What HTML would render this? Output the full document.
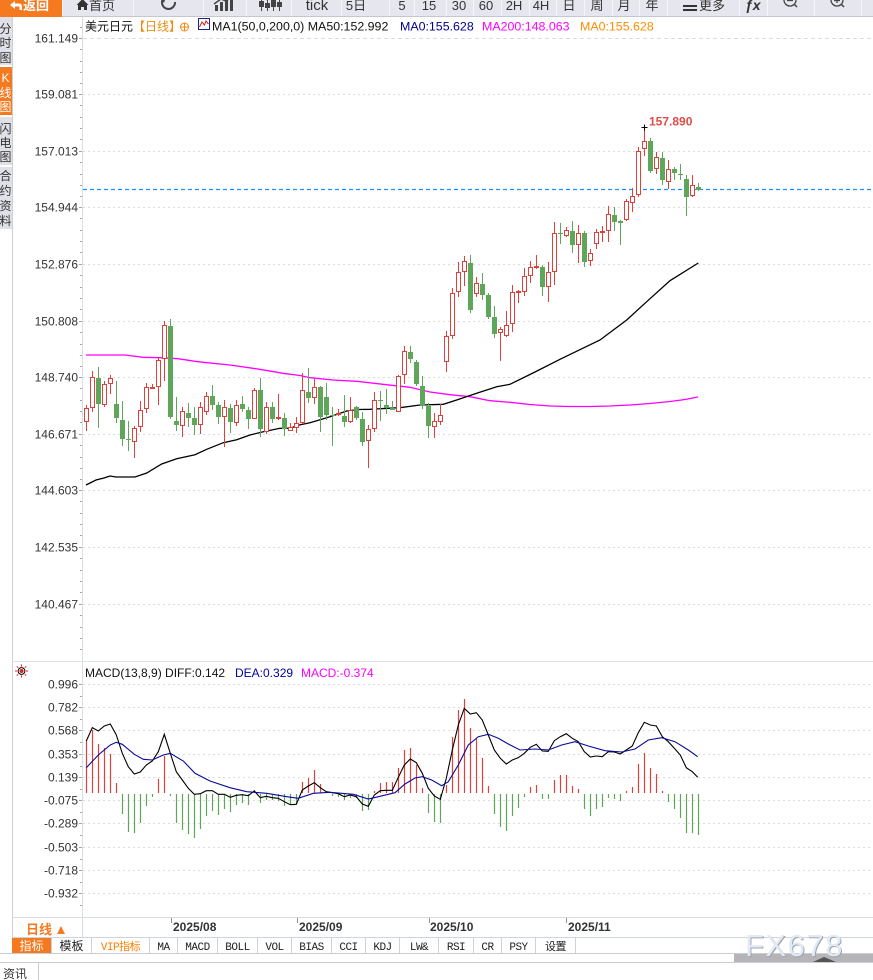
<!DOCTYPE html>
<html><head><meta charset="utf-8">
<style>
html,body{margin:0;padding:0;background:#fff;}
body{width:873px;height:980px;overflow:hidden;position:relative;}
svg{display:block;font-family:"Liberation Sans","Noto Sans CJK SC",sans-serif;}
</style></head>
<body>
<svg width="873" height="980" viewBox="0 0 873 980" xmlns="http://www.w3.org/2000/svg">
<rect x="0" y="0" width="873" height="980" fill="#fff"/>

<!-- ===== TOOLBAR ===== -->
<rect x="0" y="0" width="873" height="17" fill="#f6f6f9"/>
<g fill="#e6e6ee">
<rect x="63" y="0" width="70" height="16"/><rect x="134" y="0" width="69" height="16"/>
<rect x="204" y="0" width="42" height="16"/><rect x="247" y="0" width="44" height="16"/>
<rect x="292" y="0" width="49" height="16"/><rect x="342" y="0" width="47" height="16"/>
<rect x="390" y="0" width="24" height="16"/><rect x="415" y="0" width="31" height="16"/>
<rect x="447" y="0" width="26" height="16"/><rect x="474" y="0" width="27" height="16"/>
<rect x="502" y="0" width="27" height="16"/><rect x="530" y="0" width="26" height="16"/>
<rect x="557" y="0" width="27" height="16"/><rect x="585" y="0" width="27" height="16"/>
<rect x="613" y="0" width="26" height="16"/><rect x="640" y="0" width="27" height="16"/>
<rect x="668" y="0" width="71" height="16"/><rect x="740" y="0" width="27" height="16"/>
<rect x="768" y="0" width="46" height="16"/><rect x="815" y="0" width="46" height="16"/>
<rect x="862" y="0" width="11" height="16"/>
</g>
<line x1="0" y1="16.5" x2="873" y2="16.5" stroke="#c6c6d0" stroke-width="1"/>
<rect x="0" y="0" width="62" height="17" fill="#f5791f"/>
<path d="M10 5 L15 1 L15 3.5 L19 3.5 Q22 3.5 22 7 L22 10 L19.5 10 L19.5 7.5 Q19.5 6.5 18.5 6.5 L15 6.5 L15 9 Z" fill="#fff"/>
<text x="23" y="10" font-size="13" fill="#fff" font-weight="bold">返回</text>
<!-- house -->
<path d="M76.5 5 L82.5 -1 L88.5 5 L87 5 L87 10 L84 10 L84 7 L81 7 L81 10 L78 10 L78 5 Z" fill="#333"/>
<text x="89" y="10" font-size="13" fill="#333">首页</text>
<!-- refresh -->
<path d="M175 2 A6.5 6.5 0 1 1 163 -1" fill="none" stroke="#444" stroke-width="2"/>
<path d="M160 -2 L166 -3 L164 3 Z" fill="#444"/>
<!-- bar chart icon -->
<g fill="#444"><rect x="215" y="5" width="3" height="6"/><rect x="220" y="2" width="3" height="9"/><rect x="225" y="0" width="3" height="11"/><rect x="230" y="-2" width="3" height="13"/></g>
<path d="M214 4 L221 -1 L226 1 L233 -4" fill="none" stroke="#444" stroke-width="1.5"/>
<!-- candle icon -->
<g stroke="#444" stroke-width="1"><line x1="261.5" y1="-2" x2="261.5" y2="11"/><line x1="267.5" y1="-2" x2="267.5" y2="11"/><line x1="273.5" y1="-2" x2="273.5" y2="11"/><line x1="279.5" y1="-2" x2="279.5" y2="11"/></g>
<g fill="#444"><rect x="259" y="1" width="5" height="6"/><rect x="265" y="3" width="5" height="5"/><rect x="271" y="0" width="5" height="7"/><rect x="277" y="2" width="5" height="5"/></g>
<g font-size="13" fill="#333" text-anchor="middle">
<text x="317" y="10" font-size="15">tick</text>
<text x="356" y="10">5日</text>
<text x="402" y="10">5</text>
<text x="429" y="10">15</text>
<text x="459" y="10">30</text>
<text x="486" y="10">60</text>
<text x="514" y="10">2H</text>
<text x="541" y="10">4H</text>
<text x="569" y="10">日</text>
<text x="597" y="10">周</text>
<text x="624" y="10">月</text>
<text x="652" y="10">年</text>
</g>
<rect x="683" y="5" width="14" height="2" fill="#333"/><rect x="683" y="9" width="14" height="2" fill="#333"/>
<text x="699" y="10" font-size="13" fill="#333">更多</text>
<text x="745" y="10" font-size="14" fill="#333" font-weight="bold" font-style="italic">ƒx</text>
<circle cx="790" cy="0" r="6" fill="none" stroke="#444" stroke-width="1.3"/><line x1="787" y1="0.5" x2="793" y2="0.5" stroke="#444" stroke-width="1.3"/><line x1="794" y1="4" x2="797" y2="7" stroke="#444" stroke-width="1.5"/>
<circle cx="837" cy="0" r="6" fill="none" stroke="#444" stroke-width="1.3"/><line x1="834" y1="0.5" x2="840" y2="0.5" stroke="#444" stroke-width="1.3"/><line x1="837" y1="-3" x2="837" y2="3" stroke="#444" stroke-width="1.3"/><line x1="841" y1="4" x2="844" y2="7" stroke="#444" stroke-width="1.5"/>

<!-- ===== LEFT SIDEBAR ===== -->
<rect x="0" y="17" width="12" height="48" fill="#e0e0e8"/>
<rect x="0" y="67" width="12" height="48" fill="#f5791f"/>
<rect x="0" y="117" width="12" height="48" fill="#e0e0e8"/>
<rect x="0" y="167" width="12" height="62" fill="#e0e0e8"/>
<g font-size="12" text-anchor="middle" fill="#333">
<text x="5.5" y="33">分</text><text x="5.5" y="47">时</text><text x="5.5" y="62">图</text>
<text x="5.5" y="82" fill="#fff">K</text><text x="5.5" y="97" fill="#fff">线</text><text x="5.5" y="111" fill="#fff">图</text>
<text x="5.5" y="133">闪</text><text x="5.5" y="147">电</text><text x="5.5" y="161">图</text>
<text x="5.5" y="180">合</text><text x="5.5" y="195">约</text><text x="5.5" y="210">资</text><text x="5.5" y="225">料</text>
</g>
<line x1="12.5" y1="17" x2="12.5" y2="954" stroke="#cbd0d8"/>
<line x1="82.5" y1="17" x2="82.5" y2="938" stroke="#d6dde3"/>

<!-- ===== MAIN GRID ===== -->
<g stroke="#dcdcdc" stroke-width="1" stroke-dasharray="2,3">
<line x1="83" y1="38.5" x2="873" y2="38.5" stroke-dasharray="4,3"/>
<line x1="83" y1="94.5" x2="873" y2="94.5"/>
<line x1="83" y1="151.5" x2="873" y2="151.5"/>
<line x1="83" y1="207.5" x2="873" y2="207.5"/>
<line x1="83" y1="264.5" x2="873" y2="264.5"/>
<line x1="83" y1="321.5" x2="873" y2="321.5"/>
<line x1="83" y1="377.5" x2="873" y2="377.5"/>
<line x1="83" y1="434.5" x2="873" y2="434.5"/>
<line x1="83" y1="490.5" x2="873" y2="490.5"/>
<line x1="83" y1="547.5" x2="873" y2="547.5"/>
<line x1="83" y1="604.5" x2="873" y2="604.5"/>
</g>
<g stroke="#9aa4ae">
<path d="M79 38.5H82M79 94.5H82M79 151.5H82M79 207.5H82M79 264.5H82M79 321.5H82M79 377.5H82M79 434.5H82M79 490.5H82M79 547.5H82M79 604.5H82"/>
<path d="M80 27.5H82M80 49.5H82M80 61.5H82M80 72.5H82M80 83.5H82M80 105.5H82M80 117.5H82M80 128.5H82M80 139.5H82M80 162.5H82M80 174.5H82M80 185.5H82M80 196.5H82M80 218.5H82M80 230.5H82M80 241.5H82M80 252.5H82M80 275.5H82M80 287.5H82M80 298.5H82M80 309.5H82M80 332.5H82M80 344.5H82M80 355.5H82M80 366.5H82M80 388.5H82M80 400.5H82M80 411.5H82M80 422.5H82M80 445.5H82M80 457.5H82M80 468.5H82M80 479.5H82M80 501.5H82M80 513.5H82M80 524.5H82M80 535.5H82M80 558.5H82M80 570.5H82M80 581.5H82M80 592.5H82M80 615.5H82M80 627.5H82M80 638.5H82M80 649.5H82"/>
</g>
<g font-size="12" fill="#333" text-anchor="end">
<text x="78" y="42.5">161.149</text>
<text x="78" y="98.5">159.081</text>
<text x="78" y="155.5">157.013</text>
<text x="78" y="211.5">154.944</text>
<text x="78" y="268.5">152.876</text>
<text x="78" y="325.5">150.808</text>
<text x="78" y="381.5">148.740</text>
<text x="78" y="438.5">146.671</text>
<text x="78" y="494.5">144.603</text>
<text x="78" y="551.5">142.535</text>
<text x="78" y="608.5">140.467</text>
</g>

<!-- title -->
<text x="85" y="30.5" font-size="12" fill="#111">美元日元</text>
<text x="133" y="30.5" font-size="12" fill="#f08a10">【日线】</text>
<circle cx="184.5" cy="27" r="4" fill="none" stroke="#f08a10" stroke-width="1"/>
<path d="M180.5 27H188.5M184.5 23V31" stroke="#f08a10" stroke-width="1"/>
<rect x="198.5" y="18.5" width="11" height="11" fill="#fff" stroke="#1a237e" stroke-width="1"/>
<path d="M199.5 27 L202 22 L204.5 25 L206 21 L208.5 24" fill="none" stroke="#d02020" stroke-width="1"/>
<g font-size="12.4">
<text x="212" y="30.5" fill="#111">MA1(50,0,200,0) MA50:152.992</text>
<text x="400" y="30.5" fill="#00008b">MA0:155.628</text>
<text x="482" y="30.5" fill="#ff00ff">MA200:148.063</text>
<text x="580" y="30.5" fill="#ff8c00">MA0:155.628</text>
</g>

<!-- moving averages -->
<polyline fill="none" stroke="#ff00ff" stroke-width="1.3" points="86,355 125,355 143,357.3 160,357.7 178,358.7 195,361.3 207,362.7 230,365 253,368.3 268,370.7 283,373.3 300,375.5 310,377.7 333,380 357,381.3 383,384.3 410,387.3 430,392 450,394.7 470,396.7 490,400.7 510,402.3 530,404.5 550,406 570,406.5 590,406.5 610,406 630,405 650,403.5 670,401.5 685,399.5 698,397"/>
<polyline fill="none" stroke="#000" stroke-width="1.3" points="86,485 96,480 104,478 110,476 116,477 125,477 135,477 146.7,473 161.7,464 176.7,458.7 195,454.7 206.7,449.3 223.3,442.7 236.7,439.7 250,435 263.3,431.7 280,428.3 290,428.3 298,425.3 310,422.7 330,416.7 346.7,411 358,409.5 370,409.3 400,407.7 420,405 443.3,404.3 456.7,400 476.7,393.3 496.7,386.7 510,384.3 535,372 560,359.3 600,340 626.7,320 646.7,301.7 670,280.7 698.3,263"/>

<!-- price line -->
<line x1="83" y1="189.5" x2="873" y2="189.5" stroke="#1e8fff" stroke-width="1.2" stroke-dasharray="4,3"/>

<!-- red candles -->
<path fill="none" stroke="#e0403c" stroke-width="1" d="M86.5 405V431M92.5 371V412M104.5 381V407M110.5 375V394M134.5 426V458M140.5 401V432M146.5 383V413M152.5 384V389M158.5 357V405M164.5 321V381M182.5 407V437M200.5 402V434M206.5 392V415M224.5 400V447M236.5 400V426M254.5 388V419M266.5 402V434M278.5 394V420M290.5 423V431M296.5 417V433M302.5 373V424M314.5 379V404M338.5 409V416M350.5 397V423M368.5 425V468M374.5 392V432M398.5 375V412M404.5 346V384M434.5 413V438M440.5 404V425M446.5 331V372M452.5 288V339M458.5 262V297M464.5 256V286M476.5 277V297M500.5 327V361M506.5 311V337M512.5 285V332M518.5 290V303M524.5 268V296M530.5 261V283M536.5 255V269M548.5 262V302M554.5 222V285M566.5 227V237M578.5 225V263M590.5 249V266M596.5 229V249M602.5 226V242M608.5 206V242M626.5 199V221M632.5 188V212M638.5 147V197M644.5 127V156M656.5 152V174M668.5 160V189M692.5 175V197"/>
<g fill="#fff" stroke="#e0403c" stroke-width="1">
<rect x="84.5" y="408.5" width="4" height="13"/><rect x="90.5" y="377.5" width="4" height="30"/>
<rect x="102.5" y="384.5" width="4" height="20"/><rect x="108.5" y="378.5" width="4" height="5"/>
<rect x="132.5" y="428.5" width="4" height="13"/><rect x="138.5" y="410.5" width="4" height="16"/>
<rect x="144.5" y="387.5" width="4" height="21"/><rect x="150.5" y="387.5" width="4" height="1"/>
<rect x="156.5" y="360.5" width="4" height="26"/><rect x="162.5" y="325.5" width="4" height="33"/>
<rect x="180.5" y="411.5" width="4" height="14"/><rect x="198.5" y="407.5" width="4" height="17"/>
<rect x="204.5" y="396.5" width="4" height="15"/><rect x="222.5" y="407.5" width="4" height="9"/>
<rect x="234.5" y="405.5" width="4" height="17"/><rect x="252.5" y="390.5" width="4" height="28"/>
<rect x="264.5" y="407.5" width="4" height="24"/><rect x="276.5" y="417.5" width="4" height="1"/>
<rect x="288.5" y="427.5" width="4" height="3"/><rect x="294.5" y="423.5" width="4" height="4"/>
<rect x="300.5" y="390.5" width="4" height="32"/><rect x="312.5" y="387.5" width="4" height="10"/>
<rect x="336.5" y="413.5" width="4" height="1"/><rect x="348.5" y="410.5" width="4" height="11"/>
<rect x="366.5" y="429.5" width="4" height="11"/><rect x="372.5" y="400.5" width="4" height="28"/>
<rect x="396.5" y="376.5" width="4" height="35"/><rect x="402.5" y="351.5" width="4" height="23"/>
<rect x="432.5" y="421.5" width="4" height="5"/><rect x="438.5" y="415.5" width="4" height="6"/>
<rect x="444.5" y="336.5" width="4" height="25"/><rect x="450.5" y="293.5" width="4" height="42"/>
<rect x="456.5" y="272.5" width="4" height="19"/><rect x="462.5" y="261.5" width="4" height="10"/>
<rect x="474.5" y="283.5" width="4" height="10"/><rect x="498.5" y="329.5" width="4" height="3"/>
<rect x="504.5" y="325.5" width="4" height="10"/><rect x="510.5" y="292.5" width="4" height="31"/>
<rect x="516.5" y="291.5" width="4" height="1"/><rect x="522.5" y="276.5" width="4" height="15"/>
<rect x="528.5" y="267.5" width="4" height="8"/><rect x="534.5" y="266.5" width="4" height="1"/>
<rect x="546.5" y="272.5" width="4" height="14"/><rect x="552.5" y="233.5" width="4" height="38"/>
<rect x="564.5" y="230.5" width="4" height="5"/><rect x="576.5" y="233.5" width="4" height="11"/>
<rect x="588.5" y="253.5" width="4" height="7"/><rect x="594.5" y="232.5" width="4" height="11"/>
<rect x="600.5" y="231.5" width="4" height="1"/><rect x="606.5" y="214.5" width="4" height="16"/>
<rect x="624.5" y="201.5" width="4" height="18"/><rect x="630.5" y="196.5" width="4" height="6"/>
<rect x="636.5" y="151.5" width="4" height="43"/><rect x="642.5" y="141.5" width="4" height="7"/>
<rect x="654.5" y="157.5" width="4" height="11"/><rect x="666.5" y="169.5" width="4" height="12"/>
<rect x="690.5" y="185.5" width="4" height="10"/>
</g>

<!-- green candles -->
<path fill="none" stroke="#5ea65a" stroke-width="1" d="M98.5 367V428M116.5 381V423M122.5 401V446M128.5 421V451M170.5 319V419M176.5 397V431M188.5 403V427M194.5 407V435M212.5 385V410M218.5 402V424M230.5 404V433M242.5 396V412M248.5 407V429M260.5 378V437M272.5 402V423M284.5 413V436M308.5 368V403M320.5 386V432M326.5 383V420M332.5 407V446M344.5 395V427M356.5 406V420M362.5 412V446M380.5 391V421M386.5 389V414M392.5 401V410M410.5 346V363M416.5 360V386M422.5 376V409M428.5 403V438M470.5 255V313M482.5 273V300M488.5 293V319M494.5 306V338M542.5 265V296M560.5 223V244M572.5 221V253M584.5 231V267M614.5 207V231M620.5 220V245M650.5 138V173M662.5 152V185M674.5 167V180M680.5 164V180M686.5 175V216M698.5 183V191"/>
<g fill="#5ea65a">
<rect x="96" y="378" width="5" height="26"/><rect x="114" y="404" width="5" height="14"/>
<rect x="120" y="420" width="5" height="19"/><rect x="126" y="439" width="5" height="1"/>
<rect x="168" y="326" width="5" height="91"/><rect x="174" y="421" width="5" height="4"/>
<rect x="186" y="413" width="5" height="5"/><rect x="192" y="418" width="5" height="7"/>
<rect x="210" y="396" width="5" height="9"/><rect x="216" y="405" width="5" height="12"/>
<rect x="228" y="408" width="5" height="14"/><rect x="240" y="404" width="5" height="5"/>
<rect x="246" y="410" width="5" height="9"/><rect x="258" y="390" width="5" height="39"/>
<rect x="270" y="407" width="5" height="12"/><rect x="282" y="418" width="5" height="11"/>
<rect x="306" y="392" width="5" height="6"/><rect x="318" y="387" width="5" height="30"/>
<rect x="324" y="397" width="5" height="18"/><rect x="330" y="415" width="5" height="1"/>
<rect x="342" y="416" width="5" height="6"/><rect x="354" y="407" width="5" height="11"/>
<rect x="360" y="419" width="5" height="23"/><rect x="378" y="400" width="5" height="1"/>
<rect x="384" y="405" width="5" height="3"/><rect x="390" y="408" width="5" height="2"/>
<rect x="408" y="352" width="5" height="7"/><rect x="414" y="362" width="5" height="22"/>
<rect x="420" y="386" width="5" height="20"/><rect x="426" y="406" width="5" height="20"/>
<rect x="468" y="263" width="5" height="47"/><rect x="480" y="284" width="5" height="11"/>
<rect x="486" y="295" width="5" height="22"/><rect x="492" y="317" width="5" height="17"/>
<rect x="540" y="267" width="5" height="20"/><rect x="558" y="233" width="5" height="1"/>
<rect x="570" y="231" width="5" height="14"/><rect x="582" y="233" width="5" height="29"/>
<rect x="612" y="215" width="5" height="7"/><rect x="618" y="221" width="5" height="2"/>
<rect x="648" y="141" width="5" height="30"/><rect x="660" y="158" width="5" height="22"/>
<rect x="672" y="169" width="5" height="4"/><rect x="678" y="174" width="5" height="1"/>
<rect x="684" y="179" width="5" height="18"/><rect x="696" y="187" width="5" height="3"/>
</g>

<!-- high marker -->
<path d="M641.5 127.5H647.5M644.5 124.5V130.5" stroke="#000" stroke-width="1"/>
<text x="649" y="125.5" font-size="12" font-weight="bold" fill="#e04c48">157.890</text>

<!-- ===== MACD PANE ===== -->
<line x1="12" y1="661.5" x2="873" y2="661.5" stroke="#dde3e8"/>
<g stroke="#dcdcdc" stroke-width="1" stroke-dasharray="2,3">
<line x1="83" y1="684.5" x2="873" y2="684.5"/>
<line x1="83" y1="707.5" x2="873" y2="707.5"/>
<line x1="83" y1="730.5" x2="873" y2="730.5"/>
<line x1="83" y1="754.5" x2="873" y2="754.5"/>
<line x1="83" y1="777.5" x2="873" y2="777.5"/>
<line x1="83" y1="800.5" x2="873" y2="800.5"/>
<line x1="83" y1="823.5" x2="873" y2="823.5"/>
<line x1="83" y1="847.5" x2="873" y2="847.5"/>
<line x1="83" y1="870.5" x2="873" y2="870.5"/>
<line x1="83" y1="893.5" x2="873" y2="893.5"/>
</g>
<path stroke="#9aa4ae" d="M79 684.5H82M79 707.5H82M79 730.5H82M79 754.5H82M79 777.5H82M79 800.5H82M79 823.5H82M79 847.5H82M79 870.5H82M79 893.5H82M80 696.5H82M80 719.5H82M80 742.5H82M80 766.5H82M80 789.5H82M80 812.5H82M80 835.5H82M80 859.5H82M80 882.5H82M80 905.5H82"/>
<g font-size="12" fill="#333" text-anchor="end">
<text x="78" y="688.5">0.996</text>
<text x="78" y="711.5">0.782</text>
<text x="78" y="734.5">0.568</text>
<text x="78" y="758.5">0.353</text>
<text x="78" y="781.5">0.139</text>
<text x="78" y="804.5">-0.075</text>
<text x="78" y="827.5">-0.289</text>
<text x="78" y="851.5">-0.503</text>
<text x="78" y="874.5">-0.718</text>
<text x="78" y="897.5">-0.932</text>
</g>
<!-- sun icon -->
<g stroke="#e02020" stroke-width="1">
<path d="M21.5 664.5V666.5M21.5 675.5V677.5M15 671H17M26 671H28M16.8 666.3L18.2 667.7M24.8 674.3L26.2 675.7M26.2 666.3L24.8 667.7M18.2 674.3L16.8 675.7"/>
</g>
<circle cx="21.5" cy="671" r="3.4" fill="#fff" stroke="#000" stroke-width="1"/>
<circle cx="21.5" cy="671" r="2" fill="#e02020"/>
<g font-size="12">
<text x="85" y="677" fill="#111">MACD(13,8,9) DIFF:0.142</text>
<text x="235" y="677" fill="#0000a0">DEA:0.329</text>
<text x="301" y="677" fill="#ff00ff">MACD:-0.374</text>
</g>

<path fill="none" stroke="#e0403c" stroke-width="1.2" d="M86.5 793V741M92.5 793V730M98.5 793V744M104.5 793V748M110.5 793V754M116.5 793V783M158.5 793V779M164.5 793V756M254.5 793V790M302.5 793V782M308.5 793V778M314.5 793V770M320.5 793V784M374.5 793V791M380.5 793V783M386.5 793V782M392.5 793V782M398.5 793V768M404.5 793V750M410.5 793V748M416.5 793V765M422.5 793V788M446.5 793V785M452.5 793V737M458.5 793V710M464.5 793V699M470.5 793V728M476.5 793V739M482.5 793V758M488.5 793V786M530.5 793V787M536.5 793V785M554.5 793V780M560.5 793V775M566.5 793V775M572.5 793V786M578.5 793V789M626.5 793V791M632.5 793V787M638.5 793V764M644.5 793V753M650.5 793V768M656.5 793V774M662.5 793V791"/>
<path fill="none" stroke="#5ea65a" stroke-width="1.2" d="M122.5 794V814M128.5 794V832M134.5 794V833M140.5 794V823M146.5 794V806M152.5 794V797M170.5 794V796M176.5 794V823M182.5 794V830M188.5 794V834M194.5 794V838M200.5 794V829M206.5 794V816M212.5 794V811M218.5 794V815M224.5 794V809M230.5 794V812M236.5 794V805M242.5 794V803M248.5 794V805M260.5 794V803M266.5 794V800M272.5 794V800M278.5 794V801M284.5 794V806M290.5 794V805M296.5 794V804M332.5 794V796M338.5 794V797M344.5 794V800M350.5 794V798M356.5 794V798M362.5 794V811M368.5 794V810M428.5 794V813M434.5 794V822M440.5 794V823M494.5 794V814M500.5 794V827M506.5 794V831M512.5 794V816M518.5 794V808M524.5 794V797M542.5 794V799M548.5 794V799M584.5 794V809M590.5 794V816M596.5 794V809M602.5 794V807M608.5 794V798M614.5 794V799M620.5 794V801M668.5 794V802M674.5 794V809M680.5 794V818M686.5 794V833M692.5 794V833M698.5 794V835"/>

<polyline fill="none" stroke="#000" stroke-width="1.1" points="86.3,741 92.3,727.7 98.3,731 104.3,726 110.3,724 116.3,735 122.3,753.3 128.3,766.7 134.3,774 140.3,772 146.3,765 152.3,761 158.3,751.7 164.3,734.3 170.3,753.3 176.3,771.7 182.3,780 188.3,788.3 194.3,794.3 200.3,793.7 206.3,790.7 212.3,790.7 218.3,794.3 224.3,794.3 230.3,797.3 236.3,795.3 242.3,794.7 248.3,795.7 254.3,791 260.3,797.7 266.3,796.3 272.3,797.7 278.3,798.3 284.3,801.7 290.3,804.7 296.3,804.3 302.3,790 308.3,786 314.3,782.7 320.3,787.7 326.3,791.7 332.3,792.7 338.3,793.7 344.3,796.7 350.3,795 356.3,796.7 362.3,804 368.3,806.3 374.3,795 380.3,790.7 386.3,790.3 392.3,790.3 398.3,777.3 404.3,765 410.3,759 416.3,762.7 422.3,773.3 428.3,788.3 434.3,796 440.3,799.3 446.3,778.3 452.3,750 458.3,725 464.3,708.3 470.3,714 476.3,712.7 482.3,720 488.3,735 494.3,750 500.3,758.3 506.3,764 512.3,760 518.3,757.7 524.3,753.3 530.3,747.3 536.3,744.3 542.3,751 548.3,751.3 554.3,740.7 560.3,736.7 566.3,733.7 572.3,738.3 578.3,741.7 584.3,751.7 590.3,757 596.3,756 602.3,756.7 608.3,751.7 614.3,752 620.3,754 626.3,750 632.3,746 638.3,732.7 644.3,722.3 650.3,725 656.3,726 662.3,736.7 668.3,741.7 674.3,748.3 680.3,755 686.3,767.7 692.3,771.7 697.7,777.3"/>
<polyline fill="none" stroke="#0a0a9a" stroke-width="1.1" points="86.3,767.7 98.3,755 110.3,745 116.3,742.3 122.3,744.3 134.3,754.3 143.3,759.3 152.3,760 163.3,755 170.3,753.3 183.3,761 195,773.3 210,781 230,787.7 246.7,791.7 266.7,793.3 286.7,796.7 298.3,798.3 313.3,793.3 330,792.3 353.3,794.3 368.3,799 380,796.3 395,792.7 405,784 415,778 422.3,776.7 431.7,780 441.7,785.7 448.3,781.7 458.3,765 468.3,745 478.3,736.7 488.3,734.3 498.3,738.3 508.3,744 520,750 535,749 548.3,750 561.7,745 575,741.7 588.3,746 605,750.7 621.7,752 635,749 648.3,740 661.7,737.7 675,741.7 688.3,750 697.7,756.7"/>

<!-- ===== TIME AXIS ===== -->
<line x1="12" y1="917.5" x2="873" y2="917.5" stroke="#d6dce2"/>
<line x1="12" y1="937.5" x2="873" y2="937.5" stroke="#cfd5dc"/>
<path stroke="#8a949e" d="M171.5 918V923M297.5 918V923M429.5 918V923M566.5 918V923"/>
<g font-size="12" font-weight="bold" fill="#333">
<text x="173" y="931">2025/08</text>
<text x="299" y="931">2025/09</text>
<text x="430" y="931">2025/10</text>
<text x="568" y="931">2025/11</text>
</g>
<text x="26" y="934" font-size="13" font-weight="bold" fill="#f5791f">日线</text>
<path d="M57 934 L61 926 L65 934 Z" fill="#f5791f"/>

<!-- ===== TABS ===== -->
<rect x="12" y="938" width="39" height="15" fill="#f5791f"/>
<path stroke="#cfd3d9" d="M51.5 938V953M91.5 938V953M149.5 938V953M177.5 938V953M217.5 938V953M257.5 938V953M291.5 938V953M331.5 938V953M365.5 938V953M399.5 938V953M438.5 938V953M473.5 938V953M501.5 938V953M535.5 938V953M575.5 938V953"/>
<g font-size="12" text-anchor="middle">
<text x="31.5" y="950" fill="#fff" font-family="Noto Sans CJK SC,sans-serif">指标</text>
<text x="71.5" y="950" fill="#222" font-family="Noto Sans CJK SC,sans-serif">模板</text>
</g>
<g font-size="11" text-anchor="middle" fill="#222" font-family="Liberation Mono,Noto Sans CJK SC,monospace" letter-spacing="-0.5">
<text x="120.5" y="950" fill="#ff7f00">VIP指标</text>
<text x="163.5" y="950">MA</text>
<text x="197.5" y="950">MACD</text>
<text x="237.5" y="950">BOLL</text>
<text x="274.5" y="950">VOL</text>
<text x="311.5" y="950">BIAS</text>
<text x="348.5" y="950">CCI</text>
<text x="382.5" y="950">KDJ</text>
<text x="419" y="950">LW&amp;</text>
<text x="456" y="950">RSI</text>
<text x="487.5" y="950">CR</text>
<text x="518.5" y="950">PSY</text>
<text x="555.5" y="950" font-family="Noto Sans CJK SC,sans-serif">设置</text>
</g>
<line x1="0" y1="953.5" x2="873" y2="953.5" stroke="#c8ccd4"/>
<rect x="734" y="954" width="139" height="8" fill="#b4b4b9"/>
<path d="M813 962 L824 957 L836 962 Z" fill="#555"/>
<line x1="0" y1="962.5" x2="873" y2="962.5" stroke="#c8ccd4"/>
<line x1="38.5" y1="963" x2="38.5" y2="980" stroke="#c8ccd4"/>
<text x="3" y="978" font-size="12" fill="#333">资讯</text>

<!-- watermark -->
<text x="746" y="957" font-size="31" letter-spacing="1.5" fill="#9ea6b0">FX678</text>
<text x="745" y="956" font-size="31" letter-spacing="1.5" fill="#e3eaf3">FX678</text>
</svg>
</body></html>
